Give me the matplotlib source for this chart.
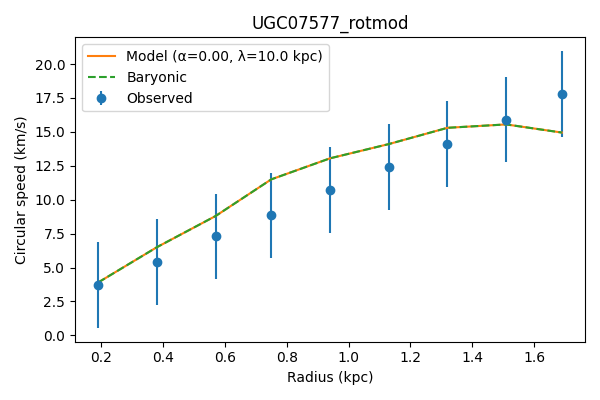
import numpy as np
import matplotlib
matplotlib.use("Agg")
import matplotlib.pyplot as plt

radius = [0.19, 0.38, 0.57, 0.75, 0.94, 1.13, 1.32, 1.51, 1.69]
v_obs = [3.7, 5.4, 7.3, 8.85, 10.7, 12.4, 14.1, 15.9, 17.8]
v_err = [3.15, 3.15, 3.15, 3.15, 3.15, 3.15, 3.15, 3.15, 3.15]
v_model = [3.9, 6.5, 8.8, 11.5, 13.05, 14.1, 15.3, 15.55, 14.95]
v_bar = v_model

fig, ax = plt.subplots(figsize=(6, 4), dpi=100)
ax.errorbar(radius, v_obs, yerr=v_err, fmt="o", label="Observed")
ax.plot(radius, v_model, color="C1", label="Model (α=0.00, λ=10.0 kpc)")
ax.plot(radius, v_bar, "--", color="C2", label="Baryonic")
ax.set_xlabel("Radius (kpc)")
ax.set_ylabel("Circular speed (km/s)")
ax.set_title("UGC07577_rotmod")
ax.legend(loc="upper left")
plt.tight_layout()
plt.savefig("out.png")
